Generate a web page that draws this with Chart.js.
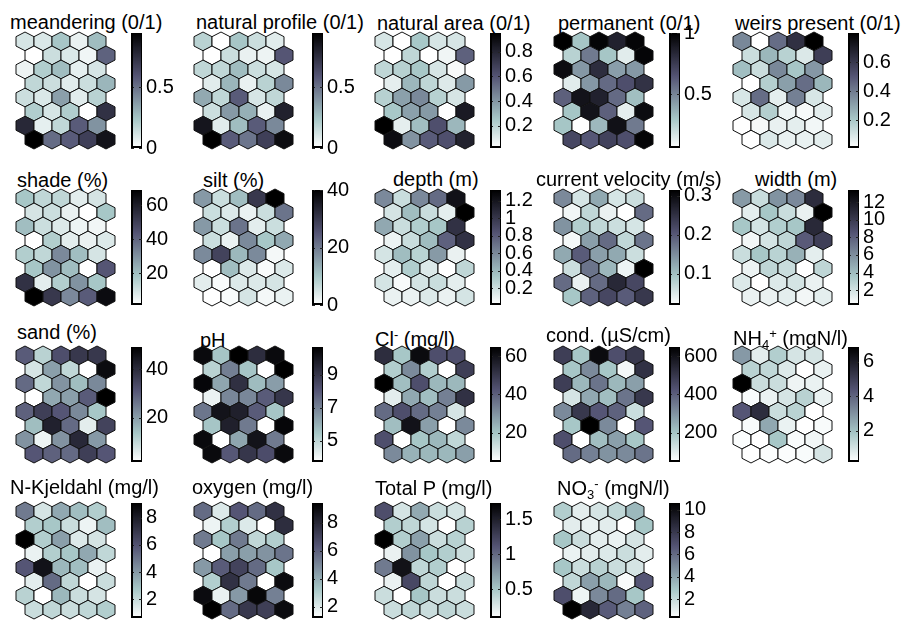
<!DOCTYPE html>
<html>
<head>
<meta charset="utf-8">
<script src="https://cdn.jsdelivr.net/npm/chart.js@4/dist/chart.umd.min.js"></script>
<style>
  html, body { margin: 0; padding: 0; background: #fff; }
  #fig { position: relative; width: 908px; height: 621px; overflow: hidden; background: #fff; }
  .ttl { position: absolute; font-family: 'Liberation Sans', Arial, Helvetica, sans-serif;
         font-size: 20px; line-height: 20px; color: #000; white-space: nowrap; }
  .ttl sup, .ttl sub { font-size: 13px; line-height: 0; }
  .ttl sup { vertical-align: 7px; }
  .ttl sub { vertical-align: -4px; }
  canvas { position: absolute; }
</style>
</head>
<body>
<div id="fig"></div>
<script>
// SOM component planes: 8 x 5 hexagonal lattice, odd rows shifted by half a cell.
// Every plane lists its 40 unit values row by row (top row first, left to right).
const ROWS = 8, COLS = 5;

const meandering = [
  0.11, 0.10, 0.24, 0.06, 0.27,
  0.00, 0.14, 0.10, 0.04, 0.55,
  0.05, 0.21, 0.27, 0.07, 0.11,
  0.17, 0.14, 0.08, 0.14, 0.29,
  0.14, 0.10, 0.36, 0.08, 0.19,
  0.21, 0.11, 0.21, 0.00, 0.74,
  0.78, 0.07, 0.17, 0.57, 0.40,
  0.95, 0.52, 0.57, 0.68, 0.87];

const naturalProfile = [
  0.19, 0.00, 0.24, 0.14, 0.08,
  0.00, 0.14, 0.06, 0.05, 0.59,
  0.17, 0.17, 0.27, 0.14, 0.11,
  0.08, 0.29, 0.06, 0.19, 0.43,
  0.33, 0.17, 0.57, 0.11, 0.17,
  0.14, 0.38, 0.31, 0.06, 0.81,
  0.86, 0.08, 0.27, 0.57, 0.43,
  0.95, 0.57, 0.49, 0.68, 0.90];

const naturalArea = [
  0.13, 0.02, 0.25, 0.13, 0.13,
  0.02, 0.19, 0.02, 0.06, 0.56,
  0.19, 0.21, 0.25, 0.13, 0.04,
  0.09, 0.30, 0.19, 0.11, 0.39,
  0.21, 0.37, 0.44, 0.21, 0.13,
  0.25, 0.37, 0.39, 0.02, 0.84,
  0.95, 0.09, 0.28, 0.62, 0.30,
  0.90, 0.41, 0.58, 0.62, 0.81];

const permanent = [
  1.00, 0.30, 0.98, 0.86, 0.98,
  0.25, 0.53, 0.30, 0.14, 0.98,
  0.95, 0.44, 0.81, 0.42, 0.44,
  0.14, 0.44, 0.58, 0.67, 0.79,
  0.61, 0.92, 0.86, 0.58, 0.32,
  0.30, 0.92, 0.61, 0.13, 0.95,
  0.30, 0.06, 0.34, 0.93, 0.53,
  0.70, 0.64, 0.72, 0.67, 0.98];

const weirs = [
  0.37, 0.01, 0.44, 0.63, 0.80,
  0.13, 0.25, 0.17, 0.09, 0.58,
  0.23, 0.13, 0.37, 0.21, 0.33,
  0.01, 0.18, 0.31, 0.44, 0.25,
  0.10, 0.44, 0.07, 0.39, 0.10,
  0.10, 0.18, 0.05, 0.03, 0.07,
  0.01, 0.03, 0.06, 0.07, 0.04,
  0.01, 0.09, 0.06, 0.06, 0.07];

const shade = [
  18.4, 13.7, 13.7, 6.9, 9.6,
  9.6, 11.6, 5.6, 1.5, 18.4,
  20.4, 11.6, 8.3, 4.9, 4.2,
  1.5, 16.4, 6.9, 5.6, 8.3,
  16.4, 13.7, 31.9, 20.4, 9.6,
  18.4, 29.9, 20.4, 1.5, 43.4,
  54.2, 6.9, 16.4, 29.9, 18.4,
  69.0, 52.1, 31.9, 42.0, 65.6];

const silt = [
  16, 6, 11.2, 30, 40,
  6, 4, 2.4, 6, 20.8,
  16, 6, 20.8, 3.2, 6,
  6, 2.4, 18, 10, 14,
  18, 28, 12, 18, 1.2,
  0, 11.2, 4, 0.8, 4,
  3.2, 0.8, 4, 4, 4.8,
  0, 0.8, 4.8, 1.2, 2.4];

const depth = [
  0.60, 0.21, 0.60, 0.73, 1.22,
  0.17, 0.38, 0.21, 0.11, 1.32,
  0.47, 0.21, 0.30, 0.34, 1.03,
  0.08, 0.21, 0.38, 0.77, 1.03,
  0.17, 0.38, 0.27, 0.53, 0.09,
  0.11, 0.30, 0.14, 0.01, 0.25,
  0.17, 0.04, 0.17, 0.21, 0.11,
  0.09, 0.09, 0.14, 0.09, 0.17];

const velocity = [
  0.153, 0.055, 0.123, 0.055, 0.064,
  0.032, 0.073, 0.038, 0.020, 0.182,
  0.144, 0.085, 0.073, 0.064, 0.055,
  0.029, 0.132, 0.182, 0.073, 0.173,
  0.123, 0.197, 0.132, 0.123, 0.064,
  0.064, 0.173, 0.109, 0.035, 0.315,
  0.182, 0.038, 0.182, 0.262, 0.221,
  0.094, 0.191, 0.221, 0.197, 0.241];

const width = [
  5.5, 2.3, 5.8, 6.2, 10.8,
  1.3, 3.6, 2.3, 1.1, 13.4,
  3.6, 1.9, 3.2, 3.6, 11.0,
  0.8, 1.9, 2.7, 8.2, 9.7,
  2.3, 3.6, 2.9, 4.5, 1.3,
  1.0, 2.7, 2.3, 0.3, 2.7,
  1.6, 0.3, 1.6, 1.9, 1.1,
  1.1, 1.1, 1.3, 0.8, 1.3];

const sand = [
  30.2, 11.4, 32.6, 37.3, 37.3,
  7.6, 19.9, 10.5, 2.0, 46.7,
  27.9, 10.5, 21.7, 15.2, 23.2,
  2.0, 18.5, 19.9, 30.2, 49.0,
  29.3, 35.8, 31.1, 23.2, 13.8,
  15.2, 42.0, 27.9, 5.8, 34.9,
  21.7, 4.4, 21.7, 40.5, 20.8,
  31.1, 29.3, 27.9, 35.8, 31.1];

const pH = [
  10.4, 5.5, 10.7, 9.3, 10.4,
  5.1, 7.1, 5.5, 3.7, 10.7,
  10.5, 6.2, 9.2, 5.7, 6.4,
  4.1, 6.9, 6.9, 7.9, 9.0,
  7.3, 10.1, 9.7, 7.9, 5.5,
  5.5, 9.7, 7.2, 3.7, 10.5,
  10.4, 3.7, 6.2, 10.1, 7.2,
  10.4, 8.0, 9.0, 8.3, 10.4];

const chloride = [
  52.7, 19.7, 61.7, 43.7, 43.7,
  17.9, 31.7, 17.9, 4.7, 47.9,
  64.7, 21.5, 43.7, 22.7, 22.7,
  9.5, 25.7, 21.5, 33.5, 51.5,
  37.7, 43.7, 37.7, 33.5, 11.9,
  21.5, 59.9, 27.5, 4.7, 31.7,
  43.7, 4.7, 19.7, 22.7, 15.5,
  31.7, 23.9, 22.7, 22.7, 27.5];

const conductivity = [
  479, 197, 617, 437, 497,
  197, 317, 197, 65, 515,
  479, 227, 359, 227, 275,
  119, 257, 215, 359, 497,
  317, 497, 419, 395, 137,
  197, 647, 317, 47, 419,
  437, 47, 215, 275, 197,
  377, 335, 299, 317, 359];

const ammonium = [
  2.86, 0.73, 1.66, 1.00, 1.00,
  1.53, 1.40, 0.87, 0.20, 0.60,
  6.85, 1.20, 1.20, 0.53, 0.60,
  0.33, 0.60, 1.00, 1.53, 0.60,
  4.32, 5.52, 1.20, 1.53, 0.20,
  0.33, 2.53, 0.60, 0.20, 0.33,
  0.27, 0.20, 1.86, 0.33, 0.47,
  0.20, 0.27, 0.27, 0.33, 1.00];

const kjeldahl = [
  4.85, 1.62, 3.58, 2.98, 2.47,
  2.47, 2.73, 1.88, 1.03, 2.98,
  9.10, 2.47, 3.83, 1.45, 1.62,
  1.11, 2.47, 2.73, 3.58, 2.13,
  5.87, 8.42, 3.15, 2.98, 1.11,
  1.28, 5.28, 2.13, 0.60, 1.88,
  2.30, 0.60, 3.15, 1.88, 1.62,
  1.88, 2.13, 1.88, 2.13, 2.47];

const oxygen = [
  5.71, 2.02, 6.28, 5.71, 7.60,
  1.61, 3.00, 2.02, 1.20, 7.76,
  5.30, 3.25, 5.30, 2.68, 3.00,
  1.20, 4.32, 4.32, 4.64, 5.46,
  4.48, 6.12, 6.94, 5.71, 3.25,
  3.00, 7.60, 5.30, 1.20, 9.00,
  9.00, 1.69, 4.48, 9.15, 5.14,
  9.40, 5.71, 7.35, 7.10, 9.00];

const totalP = [
  1.16, 0.29, 0.66, 0.34, 0.29,
  0.45, 0.39, 0.29, 0.09, 0.42,
  1.73, 0.45, 0.71, 0.34, 0.42,
  0.19, 0.78, 0.50, 0.45, 0.34,
  0.91, 1.60, 0.39, 0.45, 0.09,
  0.19, 1.20, 0.39, 0.09, 0.34,
  0.34, 0.09, 0.50, 0.34, 0.34,
  0.34, 0.39, 0.34, 0.39, 0.34];

const nitrate = [
  2.57, 1.12, 1.54, 2.15, 3.39,
  1.12, 0.92, 1.12, 0.30, 2.88,
  2.88, 1.85, 1.12, 0.92, 1.54,
  0.92, 1.12, 1.33, 1.85, 1.12,
  2.88, 1.85, 2.36, 1.85, 1.54,
  2.15, 4.21, 3.39, 0.51, 6.69,
  7.00, 0.82, 4.94, 5.97, 2.88,
  10.60, 8.75, 6.48, 5.24, 6.27];

// Plane titles (HTML for sub/superscripts), in reading order
const titles = [
  'meandering (0/1)', 'natural profile (0/1)', 'natural area (0/1)', 'permanent (0/1)', 'weirs present (0/1)',
  'shade (%)', 'silt (%)', 'depth (m)', 'current velocity (m/s)', 'width (m)',
  'sand (%)', 'pH', 'Cl<sup>-</sup> (mg/l)', 'cond. (\u00b5S/cm)', 'NH<sub>4</sub><sup>+</sup> (mgN/l)',
  'N-Kjeldahl (mg/l)', 'oxygen (mg/l)', 'Total P (mg/l)', 'NO<sub>3</sub><sup>-</sup> (mgN/l)'];

const planes = [
  meandering, naturalProfile, naturalArea, permanent, weirs,
  shade, silt, depth, velocity, width,
  sand, pH, chloride, conductivity, ammonium,
  kjeldahl, oxygen, totalP, nitrate];

// Colorbar tick labels for each plane
const colorbarTicks = [
  [0, 0.5], [0, 0.5], [0.2, 0.4, 0.6, 0.8], [0.5, 1], [0.2, 0.4, 0.6],
  [20, 40, 60], [0, 20, 40], [0.2, 0.4, 0.6, 0.8, 1, 1.2], [0.1, 0.2, 0.3], [2, 4, 6, 8, 10, 12],
  [20, 40], [5, 7, 9], [20, 40, 60], [200, 400, 600], [2, 4, 6],
  [2, 4, 6, 8], [2, 4, 6, 8], [0.5, 1, 1.5], [2, 4, 6, 8, 10]];

// ---- page layout (pixels) ----
const gridLeft = [16, 194, 375, 554, 733];   // left edge of each column's lattice
const gridTop = [32, 189, 346, 502];         // top edge of each row's lattice
const barLeft = [131, 312, 490, 669, 848];   // colorbar left edge per column
const titlePos = [
  [10, 29], [196, 29], [377, 29.5], [558, 29.5], [735, 30],
  [17, 186.5], [203, 186.5], [393, 186], [536, 186], [755, 186],
  [17, 338.5], [200, 347], [375, 345.5], [546, 342], [733, 345],
  [10, 494], [192, 494], [375, 494.5], [557, 494.5]];

const FONT = "'Liberation Sans', Arial, Helvetica, sans-serif";
const CELL_W = 18, ROW_H = 14, PAD = 2;

// Reversed "bone" colormap: 0 -> white, 1 -> black
function boneR(t) {
  const x = 1 - Math.min(1, Math.max(0, t));
  const hr = Math.min(1, x / 0.375);
  const hg = Math.min(1, Math.max(0, (x - 0.375) / 0.375));
  const hb = Math.max(0, (x - 0.75) / 0.25);
  const r = (7 * x + hb) / 8, g = (7 * x + hg) / 8, b = (7 * x + hr) / 8;
  return `rgb(${Math.round(r * 255)},${Math.round(g * 255)},${Math.round(b * 255)})`;
}

// Draws each lattice unit as a hexagon centred on its scatter point
const hexCells = {
  id: 'hexCells',
  afterDatasetsDraw(chart) {
    const { ctx, scales: { x, y } } = chart;
    const hw = Math.abs(x.getPixelForValue(0.5) - x.getPixelForValue(0));
    const hh = Math.abs(y.getPixelForValue(2 / 3) - y.getPixelForValue(0));
    const ds = chart.data.datasets[0];
    const meta = chart.getDatasetMeta(0);
    ctx.save();
    ctx.lineWidth = 1;
    ctx.strokeStyle = '#111';
    ctx.lineJoin = 'miter';
    meta.data.forEach((pt, i) => {
      const cx = pt.x, cy = pt.y;
      ctx.beginPath();
      ctx.moveTo(cx, cy - hh);
      ctx.lineTo(cx + hw, cy - hh / 2);
      ctx.lineTo(cx + hw, cy + hh / 2);
      ctx.lineTo(cx, cy + hh);
      ctx.lineTo(cx - hw, cy + hh / 2);
      ctx.lineTo(cx - hw, cy - hh / 2);
      ctx.closePath();
      ctx.fillStyle = ds.backgroundColor[i];
      ctx.fill();
      ctx.stroke();
    });
    ctx.restore();
  }
};

// Frame and inward tick marks of a colorbar
const barFrame = {
  id: 'barFrame',
  afterDraw(chart) {
    const { ctx, chartArea: a, scales: { y } } = chart;
    ctx.save();
    ctx.strokeStyle = '#000';
    ctx.lineWidth = 1;
    ctx.strokeRect(a.left + 0.5, a.top + 0.5, a.right - a.left - 1, a.bottom - a.top - 1);
    ctx.beginPath();
    y.ticks.forEach(t => {
      const py = Math.round(y.getPixelForValue(t.value)) + 0.5;
      ctx.moveTo(a.left, py); ctx.lineTo(a.left + 3, py);
      ctx.moveTo(a.right - 3, py); ctx.lineTo(a.right, py);
    });
    ctx.strokeStyle = '#222';
    ctx.stroke();
    ctx.beginPath();
    ctx.lineWidth = 2;
    ctx.strokeStyle = '#000';
    ctx.moveTo(a.left + 1, a.top);
    ctx.lineTo(a.left + 1, a.bottom - 1);
    ctx.lineTo(a.right, a.bottom - 1);
    ctx.stroke();
    ctx.restore();
  }
};

function barGradient(chart) {
  const a = chart.chartArea;
  if (!a) return '#888';
  const g = chart.ctx.createLinearGradient(0, a.bottom, 0, a.top);
  for (let i = 0; i <= 64; i++) g.addColorStop(i / 64, boneR(i / 64));
  return g;
}

function makeCanvas(left, top, w, h) {
  const c = document.createElement('canvas');
  c.width = w; c.height = h;
  c.style.left = left + 'px'; c.style.top = top + 'px';
  c.style.width = w + 'px'; c.style.height = h + 'px';
  document.getElementById('fig').appendChild(c);
  return c;
}

const fig = document.getElementById('fig');

planes.forEach((values, p) => {
  const col = p % 5, row = Math.floor(p / 5);

  // title
  const t = document.createElement('div');
  t.className = 'ttl';
  t.innerHTML = titles[p];
  t.style.left = titlePos[p][0] + 'px';
  t.style.top = (titlePos[p][1] - 17) + 'px';
  fig.appendChild(t);

  const cmin = Math.min(...values), cmax = Math.max(...values);

  // lattice
  const pts = values.map((v, i) => {
    const r = Math.floor(i / COLS), c = i % COLS;
    return { x: c + (r % 2 ? 0.5 : 0), y: r };
  });
  const colors = values.map(v => boneR((v - cmin) / (cmax - cmin)));
  const W = Math.round(CELL_W * (COLS + 0.5) + 2 * PAD);
  const H = Math.round(ROW_H * (ROWS - 1) + ROW_H * 4 / 3 + 2 * PAD);
  const hc = makeCanvas(gridLeft[col] - PAD, gridTop[row] - PAD, W, H);
  new Chart(hc, {
    type: 'scatter',
    data: { datasets: [{ data: pts, backgroundColor: colors, pointRadius: 0, pointHoverRadius: 0 }] },
    options: {
      responsive: false, animation: false, events: [],
      layout: { padding: 0 },
      plugins: { legend: { display: false }, tooltip: { enabled: false } },
      scales: {
        x: { display: false, min: -0.5 - PAD / CELL_W, max: COLS + PAD / CELL_W },
        y: { display: false, reverse: true, min: -2 / 3 - PAD / ROW_H, max: ROWS - 1 + 2 / 3 + PAD / ROW_H }
      }
    },
    plugins: [hexCells]
  });

  // colorbar
  const BAR_W = 11, BAR_H = 119, LABEL_W = 45, VPAD = 14;
  const bc = makeCanvas(barLeft[col], gridTop[row] - 1 - VPAD, BAR_W + LABEL_W, BAR_H + 2 * VPAD);
  const ticks = colorbarTicks[p];
  new Chart(bc, {
    type: 'bar',
    data: { labels: [''], datasets: [{
      data: [[cmin, cmax]],
      backgroundColor: ctx => barGradient(ctx.chart),
      borderWidth: 0, barPercentage: 1, categoryPercentage: 1 }] },
    options: {
      responsive: false, animation: false, events: [],
      layout: { padding: { top: VPAD, bottom: VPAD, left: 0, right: 0 } },
      plugins: { legend: { display: false }, tooltip: { enabled: false } },
      scales: {
        x: { display: false },
        y: {
          position: 'right', min: cmin, max: cmax,
          grid: { display: false, drawTicks: false },
          border: { display: false },
          afterBuildTicks: s => { s.ticks = ticks.map(v => ({ value: v })); },
          afterFit: s => { s.width = LABEL_W; },
          ticks: { autoSkip: false, padding: 4, color: '#000',
                   font: { family: FONT, size: 20 }, callback: v => String(v) }
        }
      }
    },
    plugins: [barFrame]
  });
});
</script>
</body>
</html>
